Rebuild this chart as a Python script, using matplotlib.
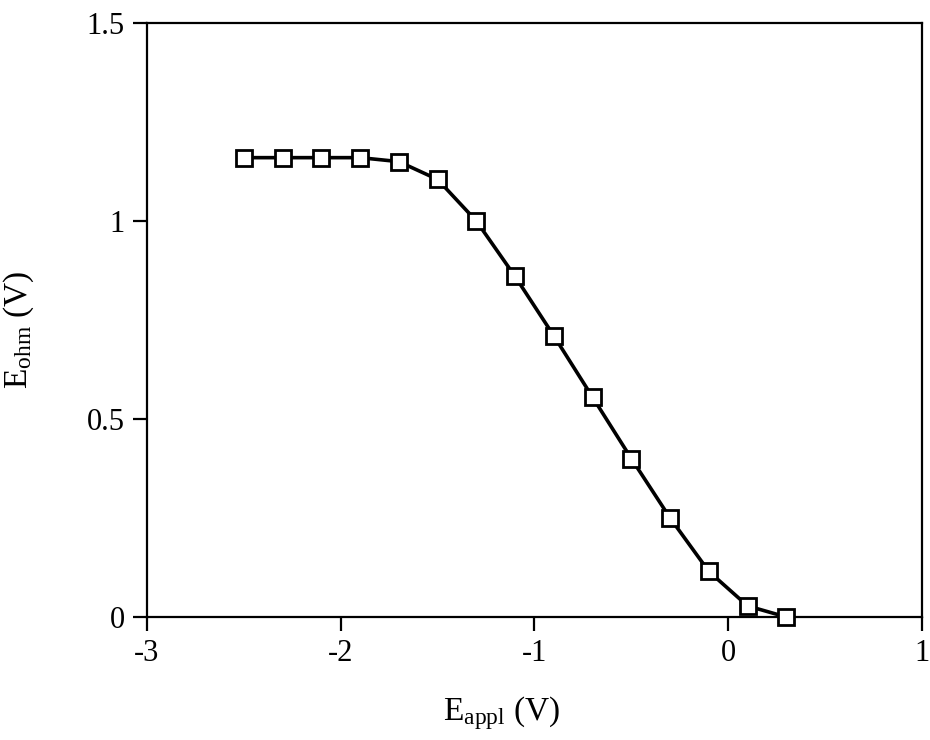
import matplotlib
matplotlib.use("Agg")
import matplotlib.pyplot as plt

# Data
e_appl = [-2.5, -2.3, -2.1, -1.9, -1.7, -1.5, -1.3, -1.1, -0.9, -0.7, -0.5, -0.3, -0.1, 0.1, 0.3]
e_ohm = [1.16, 1.16, 1.16, 1.16, 1.15, 1.105, 1.0, 0.86, 0.71, 0.555, 0.40, 0.25, 0.115, 0.028, 0.0]
x_ticks = [-3, -2, -1, 0, 1]
y_ticks = [0, 0.5, 1, 1.5]
y_tick_labels = ["0", "0.5", "1", "1.5"]

plt.rcParams["font.family"] = ["Liberation Serif", "DejaVu Serif"]
plt.rcParams["mathtext.fontset"] = "custom"
plt.rcParams["mathtext.rm"] = "Liberation Serif"
plt.rcParams["mathtext.it"] = "Liberation Serif:italic"

fig = plt.figure(figsize=(9.3, 7.4), dpi=100)
ax = fig.add_axes([0.158, 0.1662, 0.8334, 0.8027])

ax.plot(e_appl, e_ohm, color="black", linewidth=2.6, marker="s", markersize=12,
        markerfacecolor="white", markeredgecolor="black", markeredgewidth=2.0,
        clip_on=False, zorder=3)

ax.set_xlim(-3, 1)
ax.set_ylim(0, 1.5)
ax.set_xticks(x_ticks)
ax.set_xticklabels([str(t) for t in x_ticks])
ax.set_yticks(y_ticks)
ax.set_yticklabels(y_tick_labels)

for s in ax.spines.values():
    s.set_linewidth(1.6)
ax.tick_params(axis="both", direction="out", length=10, width=1.6, labelsize=22, pad=6)

ax.set_xlabel(r"E$_{\mathrm{appl}}$ (V)", fontsize=24)
ax.set_ylabel(r"E$_{\mathrm{ohm}}$ (V)", fontsize=24)
ax.xaxis.set_label_coords(0.458, -0.13)
ax.yaxis.set_label_coords(-0.143, 0.483)

fig.savefig("out.png", dpi=100)
